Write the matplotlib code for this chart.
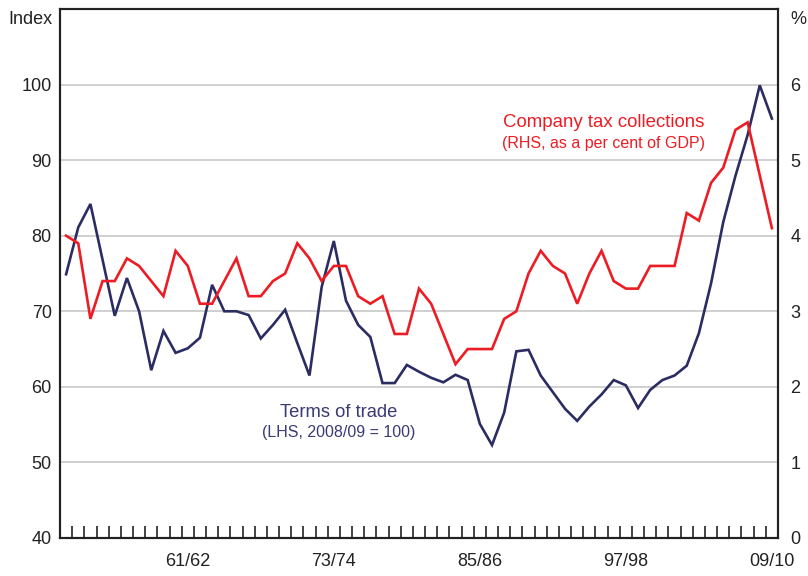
import numpy as np
import matplotlib
matplotlib.use("Agg")
import matplotlib.pyplot as plt

plt.rcParams['font.family'] = ['Liberation Sans', 'DejaVu Sans']

# Fiscal years 1951/52 .. 2009/10
start_years = list(range(1951, 2010))
years = [f"{y}/{str(y + 1)[-2:]}" for y in start_years]

terms_of_trade = [74.9, 81.1, 84.2, 76.8, 69.4, 74.4, 70.0, 62.2, 67.4, 64.5,
                  65.1, 66.5, 73.5, 70.0, 70.0, 69.5, 66.4, 68.2, 70.2, 65.8,
                  61.5, 73.2, 79.3, 71.4, 68.2, 66.6, 60.5, 60.5, 62.9, 62.0,
                  61.2, 60.6, 61.6, 60.9, 55.1, 52.3, 56.6, 64.7, 64.9, 61.5,
                  59.3, 57.1, 55.5, 57.4, 59.0, 60.9, 60.2, 57.2, 59.6, 60.9,
                  61.5, 62.8, 67.1, 73.7, 81.8, 87.9, 93.3, 99.9, 95.5]

company_tax = [4.0, 3.9, 2.9, 3.4, 3.4, 3.7, 3.6, 3.4, 3.2, 3.8,
               3.6, 3.1, 3.1, 3.4, 3.7, 3.2, 3.2, 3.4, 3.5, 3.9,
               3.7, 3.4, 3.6, 3.6, 3.2, 3.1, 3.2, 2.7, 2.7, 3.3,
               3.1, 2.7, 2.3, 2.5, 2.5, 2.5, 2.9, 3.0, 3.5, 3.8,
               3.6, 3.5, 3.1, 3.5, 3.8, 3.4, 3.3, 3.3, 3.6, 3.6,
               3.6, 4.3, 4.2, 4.7, 4.9, 5.4, 5.5, 4.8, 4.1]

labelled_years = ["1961/62", "1973/74", "1985/86", "1997/98", "2009/10"]
left_ticks = [40, 50, 60, 70, 80, 90, 100]
right_ticks = [0, 1, 2, 3, 4, 5, 6]

RED = '#ED1C24'
NAVY = '#2B2D62'
NAVY_TXT = '#3A3A74'
SPINE = '#222222'

fig = plt.figure(figsize=(8.08, 5.76), dpi=100)
ax = fig.add_axes([60 / 808, 38 / 576, 718 / 808, 529 / 576])
n = len(years)
x = np.arange(n) + 0.5

ax.set_xlim(0, n)
ax.set_ylim(40, 110)
ax.set_yticks(left_ticks)
ax.yaxis.grid(True, color='#c4c4c4', linewidth=1.1)
ax.set_axisbelow(True)

ax.plot(x, terms_of_trade, color=NAVY, linewidth=1.9, solid_joinstyle='miter', zorder=3)

# x ticks: year boundaries (minor, inward), labels at selected years
ax.set_xticks(np.arange(1, n), minor=True)
ax.set_xticks([x[years.index(y)] for y in labelled_years])
ax.set_xticklabels([y[2:] for y in labelled_years])
ax.tick_params(axis='x', which='minor', direction='in', length=9, width=1.2, color=SPINE)
ax.tick_params(axis='x', which='major', length=0, pad=11, labelsize=13, labelcolor='#222222')
ax.tick_params(axis='y', length=0, pad=6, labelsize=13, labelcolor='#222222')

ax2 = ax.twinx()
ax2.set_ylim(0, 7)
ax2.set_yticks(right_ticks)
ax2.tick_params(axis='y', length=0, pad=9, labelsize=13, labelcolor='#222222')
ax2.plot(x, company_tax, color=RED, linewidth=1.9, solid_joinstyle='miter', zorder=3)

for a in (ax, ax2):
    for s in a.spines.values():
        s.set_color(SPINE)
        s.set_linewidth(1.5)

ax.text(44.7, 95.0, "Company tax collections", color=RED, fontsize=13.4,
        ha='center', va='center')
ax.text(44.7, 92.2, "(RHS, as a per cent of GDP)", color=RED, fontsize=11.5,
        ha='center', va='center')
ax.text(22.9, 56.65, "Terms of trade", color=NAVY_TXT, fontsize=13.2,
        ha='center', va='center')
ax.text(22.9, 54.0, "(LHS, 2008/09 = 100)", color=NAVY_TXT, fontsize=11.5,
        ha='center', va='center')

fig.text(52 / 808, 1 - 20 / 576, "Index", ha='right', va='center', fontsize=13, color='#222222')
fig.text(790 / 808, 1 - 20 / 576, "%", ha='left', va='center', fontsize=13, color='#222222')

fig.savefig("out.png", dpi=100)
